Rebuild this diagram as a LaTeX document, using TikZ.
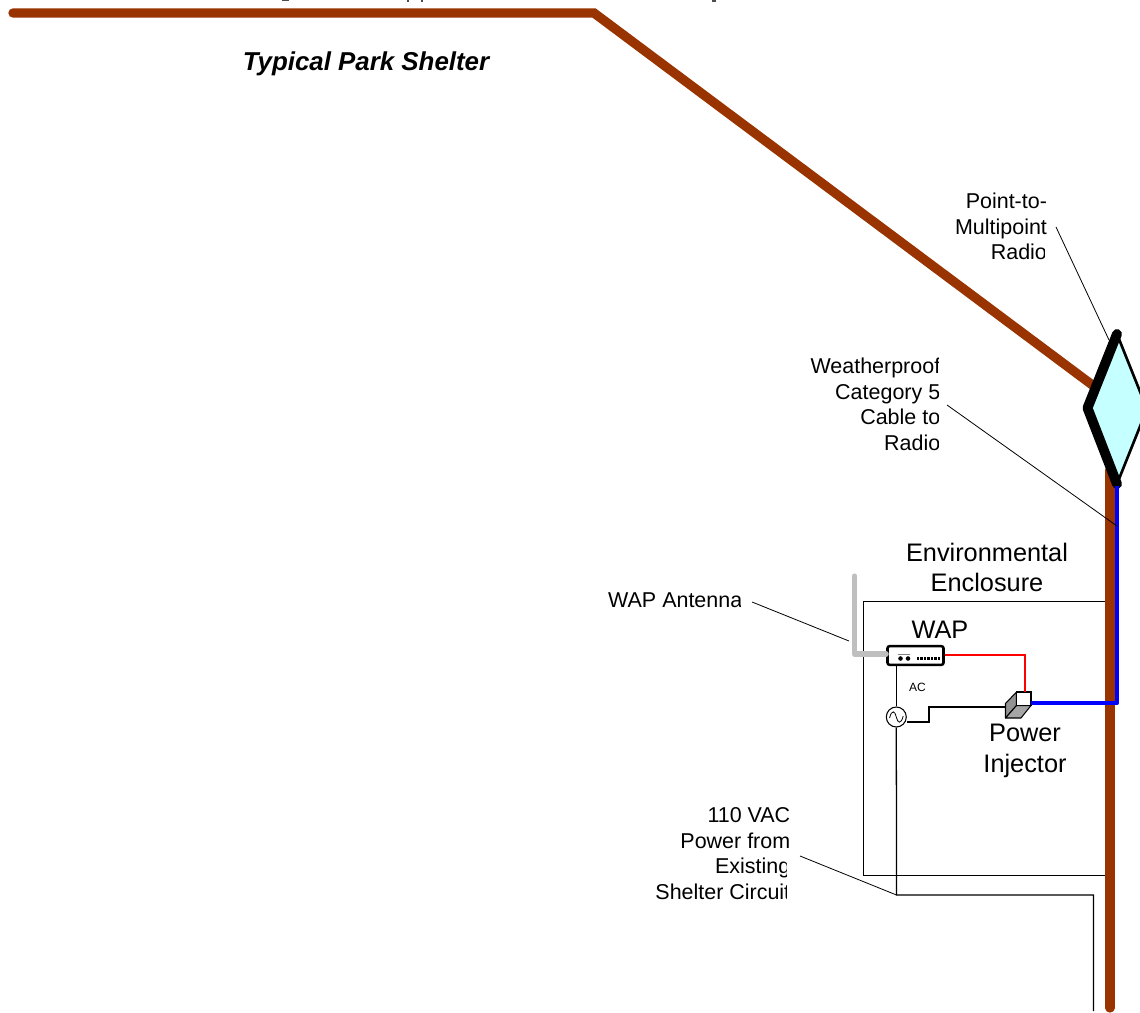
\documentclass[tikz,border=0pt]{standalone}
\usepackage{fontspec}
\setmainfont{Liberation Sans}
\definecolor{roofbrown}{HTML}{993300}
\definecolor{radiofill}{HTML}{C6FFFF}
\definecolor{antgray}{HTML}{BFBFBF}
\newcommand{\labelfont}{\fontsize{16.1}{19.2}\selectfont}
\newcommand{\bigfont}{\fontsize{19}{23}\selectfont}
\tikzset{
  structure/.style={draw=roofbrown,line width=7pt,line cap=round,line join=miter},
  thin wire/.style={draw=black,line width=0.95pt,line join=miter},
  leader/.style={draw=black,line width=0.6pt},
  lab/.style={inner sep=0pt,align=right,anchor=east,font=\labelfont},
  biglab/.style={inner sep=0pt,align=center,font=\bigfont},
}
\begin{document}
\begin{tikzpicture}[x=0.75pt,y=-0.75pt]
\useasboundingbox (0,0) rectangle (1140,1013);
\clip (0,0) rectangle (1140,1013);
% descenders of the cut-off title
\fill[black!70] (282,0) rectangle (289,1);
\fill[black!70] (407,0) rectangle (409,2.5);
\fill[black!70] (421,0) rectangle (423,2.5);
\fill[black!70] (712,0) rectangle (716,1.8);
% named points
\coordinate (r0) at (13,13);
\coordinate (r1) at (594,13);
\coordinate (r2) at (1095,387);
\coordinate (w0) at (1110,470);
\coordinate (w1) at (1110,1008);
\coordinate (dT) at (1117,334);
\coordinate (dL) at (1087.5,408);
\coordinate (dB) at (1117,484);
\coordinate (dR) at (1147,409);
% enclosure
\coordinate (e0) at (1106,601.5);
\coordinate (e1) at (863.5,601.5);
\coordinate (e2) at (863.5,875.7);
\coordinate (e3) at (1106,875.7);
\draw[thin wire] (e0) -- (e1) -- (e2) -- (e3);
% shelter structure
\draw[structure] (r0) -- (r1) -- (r2);
\draw[structure] (w0) -- (w1);
% radio
\fill[radiofill] (dT) -- (dL) -- (dB) -- (dR) -- cycle;
\draw[line width=2pt,line join=round] (dT) -- (dR) -- (dB);
\draw[line width=7.4pt,line cap=round,line join=round] (dT) -- (dL) -- (dB);
% devices
\node[draw,line width=1.9pt,rounded corners=1.6pt,fill=white,minimum width=42pt,minimum height=14pt,inner sep=0pt] (wap) at (915.5,655.5) {};
\foreach \px in {900.5,908}{\fill (\px,658.5) circle (1.7pt);}
\foreach \px in {918,921.5,925,928.5,932,935.5,939}{\fill (\px-1.3,656.7) rectangle (\px+1.3,659.7);}
\draw[line width=0.5pt,gray] (898,654) -- (910,654);
\node[circle,draw,fill=white,line width=0.8pt,minimum size=15pt,inner sep=0pt] (ac) at (896.3,717) {};
\draw[line width=0.6pt] (889.5,718) .. controls (892,709) and (895,711) .. (896.3,717) .. controls (897.5,723) and (901,725) .. (903.2,716);
% antenna
\coordinate (a0) at (854.5,576);
\coordinate (a1) at (854.5,654);
\draw[antgray,line width=3.8pt,line cap=round,line join=round] (a0) -- (a1) -- (wap.west |- a1);
% injector
\coordinate (p1) at (1016.5,692);
\coordinate (p2) at (1031,692);
\coordinate (p3) at (1031,705.5);
\coordinate (p4) at (1016.5,705.5);
\coordinate (p5) at (1005.5,703.5);
\coordinate (p6) at (1005.5,718);
\coordinate (p7) at (1021,718);
\filldraw[fill=gray!85,line width=0.8pt,line join=round] (p1) -- (p5) -- (p6) -- (p4) -- cycle;
\filldraw[fill=gray!70,line width=0.8pt,line join=round] (p4) -- (p6) -- (p7) -- (p3) -- cycle;
\filldraw[fill=white,line width=0.8pt] (p1) rectangle (p3);
\coordinate (inL) at (1005.5,707);
% wiring
\coordinate (rd) at (1025,655);
\draw[red,line width=0.8pt] (wap.east |- rd) -- (rd) -- (rd |- p1);
\draw[thin wire] (wap.south -| ac) -- (ac);
\coordinate (c0) at (929,722);
\coordinate (c1) at (929,707);
\draw[thin wire] (ac.east |- c0) -- (c0) -- (c1) -- (inL);
\coordinate (k1) at (896.5,895);
\coordinate (k2) at (1093.5,895);
\coordinate (k3) at (1093.5,1011);
\draw[thin wire] (ac) -- (k1) -- (k2) -- (k3);
% category 5 cable
\coordinate (b0) at (1117,486);
\coordinate (b1) at (1117,703);
\draw[blue,line width=3.2pt,line join=round] (b0) -- (b1) -- (p3 |- b1);
% texts
\node[inner sep=0pt,font=\fontsize{19.4}{23}\selectfont\bfseries\itshape] (title) at (366,63.5) {Typical Park Shelter};
\begin{scope}
\clip (900,180) rectangle (1047.5,239) (900,239) rectangle (1044.7,270);
\node[lab] (lradio) at (1047.2,226.5) {Point-to-\\Multipoint\\Radio};
\end{scope}
\begin{scope}
\clip (780,350) rectangle (938.6,460);
\node[lab] (lcable) at (940.5,404.5) {Weatherproof\\Category 5\\Cable to\\Radio};
\end{scope}
\begin{scope}
\clip (600,590) rectangle (740.5,612);
\node[lab] (lant) at (742.5,600.5) {WAP Antenna};
\end{scope}
\begin{scope}
\clip (640,800) rectangle (789.5,828) (640,828) rectangle (788,853) (640,853) rectangle (786.3,905);
\node[lab] (lpow) at (790.5,853.5) {110 VAC\\Power from\\Existing\\Shelter Circuit};
\end{scope}
\begin{scope}
\clip (880,535) rectangle (1067.5,600);
\node[biglab,anchor=center] (lenc) at (987,567.5) {Environmental\\Enclosure};
\end{scope}
\node[biglab] (lwap) at (940,630) {WAP};
\node[biglab] (linj) at (1025,751) {Power\\Injector};
\node[inner sep=0pt,font=\fontsize{9}{11}\selectfont] (lac) at (917.5,687) {AC};
% leaders
\coordinate (n1) at (1056,227);
\coordinate (n2) at (1109,340);
\draw[leader] (n1) -- (n2);
\coordinate (n3) at (947,405);
\coordinate (n4) at (1117,526);
\draw[leader] (n3) -- (n4);
\coordinate (n5) at (752,602);
\coordinate (n6) at (849,641);
\draw[leader] (n5) -- (n6);
\coordinate (n7) at (800,856);
\draw[leader] (n7) -- (k1);
\end{tikzpicture}
\end{document}
